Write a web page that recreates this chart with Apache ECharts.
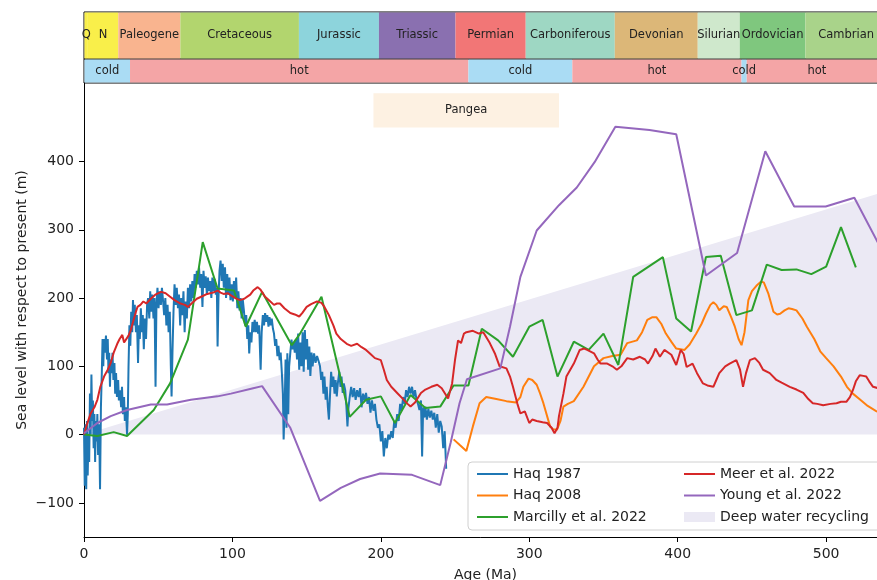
<!DOCTYPE html>
<html><head><meta charset="utf-8">
<script src="https://cdn.jsdelivr.net/npm/echarts@6/dist/echarts.min.js"></script>
<style>html,body{margin:0;padding:0;background:#fff}#c{width:877px;height:580px}</style>
</head><body><div id="c"></div>
<script>
// ---------- geological periods ----------
const periodNames = ['Q','N','Paleogene','Cretaceous','Jurassic','Triassic','Permian','Carboniferous','Devonian','Silurian','Ordovician','Cambrian'];
const periodStart = [0, 2.6, 23.1, 64.9, 144.8, 198.7, 250.3, 297.6, 357.6, 413.5, 441.8, 486];
const periodEnd   = [2.6, 23.1, 64.9, 144.8, 198.7, 250.3, 297.6, 357.6, 413.5, 441.8, 486, 541];
const periodColors = ['#f9ef4a','#f9ef4a','#f9b48f','#b2d56e','#8dd4dc','#8a70b0','#f27676','#9ed7c3','#dcb778','#cfe8cc','#7fc77e','#a9d38a'];
// ---------- climate ----------
const climateNames = ['cold','hot','cold','hot','cold','hot'];
const climateStart = [0, 31, 259, 329, 443, 446.5];
const climateEnd   = [31, 259, 329, 443, 446.5, 541];
const climateColors = ['#aadcf4','#f4a5a6','#aadcf4','#f4a5a6','#aadcf4','#f4a5a6'];
// ---------- Pangea & deep water ----------
const pangeaAge = [195, 320];
const pangeaLevel = [450, 500];
const deepWaterAge = [0, 541];
const deepWaterLevel = [0, 357];
// ---------- axis ticks ----------
const xTicks = [0, 100, 200, 300, 400, 500];
const yTicks = [-100, 0, 100, 200, 300, 400];
// ---------- series ----------
const haq1987 = [[0,10],[0.5,-75],[1,15],[1.5,-80],[2,20],[2.5,-60],[3,0],[3.5,-40],[4,60],[4.5,0],[5,88],[5.5,20],[6,50],[6.5,-20],[7,30],[7.5,-40],[8,20],[8.5,-10],[9,30],[9.5,-30],[10.2,15],[10.8,-80],[11.4,40],[12,90],[12.5,140],[13,100],[13.5,140],[14,120],[14.8,145],[15.5,110],[16,140],[16.5,90],[17,120],[17.5,70],[18,110],[18.6,90],[19.2,120],[19.8,80],[20.5,105],[21,60],[21.6,90],[22.2,55],[23,80],[23.5,50],[24.2,65],[25,40],[25.6,70],[26.2,30],[27,55],[27.5,20],[28.2,40],[29,0],[29.5,30],[30,100],[30.6,160],[31.2,130],[31.8,180],[32.5,150],[33,197],[33.6,160],[34.2,190],[35,150],[35.6,175],[36.4,105],[37,160],[37.6,140],[38.3,185],[39,150],[39.6,175],[40.3,125],[41,170],[41.8,140],[42.5,190],[43.2,200],[44,170],[44.6,210],[45.3,180],[46,205],[46.8,170],[47.5,200],[48.2,70],[48.8,190],[49.5,215],[50.2,185],[51,210],[51.8,190],[52.5,215],[53.3,195],[54,175],[54.8,200],[55.5,160],[56.3,190],[57,150],[57.8,180],[58.5,100],[59,56],[59.6,120],[60.3,180],[61,220],[61.8,190],[62.5,215],[63.3,185],[64,205],[64.8,160],[65.5,200],[66.3,175],[67,210],[67.8,150],[68.5,195],[69.3,170],[70,215],[70.8,185],[71.5,220],[72.3,195],[73,225],[73.8,200],[74.5,235],[75.3,215],[76,240],[76.8,220],[77.5,245],[78.3,215],[79,235],[79.8,187],[80.5,240],[81.3,215],[82,232],[82.8,205],[83.5,230],[84.3,210],[85,225],[85.8,200],[86.5,230],[87.3,210],[88,228],[88.8,205],[89.5,215],[90,129],[90.6,200],[91.3,240],[92,255],[92.8,225],[93.5,250],[94.2,215],[95,245],[95.7,200],[96.5,235],[97.2,205],[98,230],[98.7,197],[99.5,220],[100.3,195],[101,225],[101.8,200],[102.5,230],[103.3,185],[104,210],[104.8,182],[105.5,200],[106.2,170],[107,197],[107.8,180],[108.5,160],[109.3,175],[110,140],[110.7,160],[111.3,119],[112,150],[112.8,135],[113.5,165],[114.3,150],[115,168],[115.8,150],[116.5,165],[117.3,148],[118,160],[119,95],[119.7,150],[120.5,175],[121.3,160],[122,178],[122.8,165],[123.5,175],[124.3,158],[125,172],[125.8,160],[126.5,170],[127.3,155],[128,148],[128.8,130],[129.5,140],[130.3,115],[131,130],[131.8,109],[132.5,120],[133.3,90],[134,60],[134.5,-7],[135.2,40],[135.8,110],[136.4,10],[137,119],[137.6,30],[138.2,100],[139,120],[139.8,139],[140.5,125],[141.3,135],[142,120],[142.8,140],[143.5,110],[144.3,148],[145,95],[145.8,135],[146.5,100],[147.3,150],[148,92],[148.8,153],[149.5,110],[150.3,140],[151,95],[151.8,129],[152.5,86],[153.3,120],[154,100],[155,119],[156,105],[157,115],[158,108],[159,100],[159.8,80],[160.5,92],[161.3,60],[162,85],[162.8,51],[163.5,70],[164.3,40],[165,22],[165.8,60],[166.5,92],[167.3,70],[168,85],[168.8,60],[169.5,80],[170.3,56],[171,75],[172,92],[172.8,70],[173.5,85],[174.3,61],[175,75],[176,65],[176.8,40],[177.5,12],[178.2,40],[179,55],[180,70],[181,55],[182,68],[183,51],[184,65],[185,55],[186,68],[187,40],[188,60],[189,50],[190,61],[191,45],[192,55],[193,32],[194,50],[195,35],[196,45],[197,22],[198,10],[199,15],[200,-10],[201,5],[202,-32],[203,-5],[204,-20],[205,0],[206,-7],[207,5],[208,-5],[209,20],[210,10],[211,30],[212,20],[213,45],[214,35],[215,55],[216,45],[217,65],[218,55],[219,70],[220,60],[221,70],[222,55],[223,65],[224,51],[225,45],[226,36],[227,50],[227.8,-32],[228.5,40],[229.3,25],[230,41],[231,22],[232,38],[233,25],[234,35],[235,22],[236,32],[237,10],[238,30],[239,3],[240,20],[241,12],[242,-20],[243,5],[244,-50]];
const haq2008 = [[249,-7],[253,-15],[257.6,-24],[262,12],[266.5,46],[271,55],[277.8,52],[284.6,49],[291,47],[294,55],[296,70],[299.5,82],[302,80],[305,73],[307,62],[309.5,46],[314,12],[316,8],[318.6,7],[321,20],[323,41],[326,45],[330,49],[336.5,70],[343.6,100],[350,112],[356,115],[361.5,117],[366,134],[372.5,138],[376,150],[379.5,168],[383,172],[385.6,172],[389,162],[392,148],[396,135],[399,126],[404.6,124],[408,132],[412.5,148],[416,162],[419,177],[422,190],[424,194],[426,190],[428,182],[431,188],[433,187],[436,172],[438.5,158],[441,140],[443,131],[445,150],[447.6,197],[450,210],[453,218],[456,224],[458,223],[461,207],[464.5,180],[467,176],[469,177],[472,182],[474.6,185],[477,184],[480,182],[484,170],[487,158],[492,140],[496,122],[500,112],[505,100],[510,85],[514,70],[518,60],[523,51],[528,42],[534,34],[541,30]];
const marcilly2022 = [[0,0],[9,-2],[20,3.6],[29,-2],[47,36],[58,75],[70,139],[80,282],[90,214],[101,211],[109,158],[120,209],[140,131],[145,146],[160,202],[179,26],[190,51],[200,56],[209.5,17],[220,58],[230,39],[240,41],[249,72],[259,72],[268,155],[279,138],[289,114],[300,158],[309,168],[319,85],[330,136],[340,124],[350,148],[360,102],[370,231],[390,260],[399,170],[409,151],[419,260],[429,262],[439.5,175],[450,182],[460,249],[470,241],[480,242],[490,235],[500,246],[510,304],[520,245]];
const meer2022 = [[0,0],[2,15],[4.5,31],[7,40],[9,51],[11,70],[13.5,85],[16,95],[18,105],[20,120],[22.4,133],[24,140],[25.8,146],[27,135],[28,133],[30,145],[31.5,153],[33,165],[35,180],[36,187],[38,190],[40,195],[42,192],[45,199],[48,205],[52,209],[55,207],[58,202],[61,197],[65,192],[68,190],[70,187],[73,193],[76,199],[80,203],[83,206],[87,208],[90,211],[92,208],[94,206],[97,207],[99,204],[102,200],[105,197],[108,199],[110,202],[112,205],[114,211],[117,216],[119,212],[122,202],[125,196],[128,190],[130,192],[132,192],[135,185],[139,178],[142,176],[145,173],[147,178],[150,187],[153,191],[157,195],[160,193],[162,187],[165,175],[168,160],[170,148],[173,140],[177,133],[180,130],[184,133],[187,128],[190,124],[193,118],[196,112],[200,109],[202,95],[204,80],[207,70],[211,61],[215,52],[218,45],[220,41],[223,47],[227,61],[230,66],[234,70],[238,73],[241,68],[245.3,53],[248,75],[250,110],[252,138],[254,134],[256,148],[257.6,150],[262,152],[266,148],[269,150],[273.4,134],[277,118],[280,100],[284.6,97],[287,85],[289,70],[292,45],[294,31],[297,34],[300,17],[302,22],[305,20],[309,18],[312,17],[315,10],[317,2],[319,10],[320,27],[323,60],[325,85],[330,104],[334,124],[337,126],[339,124],[343.6,119],[346,110],[348,104],[352.5,104],[356,100],[359,95],[362,100],[366,112],[370,110],[374.5,114],[378,110],[380,104],[383,115],[385,126],[388,114],[391,124],[395.7,117],[399,102],[402,124],[404,118],[406,99],[410,104],[413,90],[417,75],[420,72],[424,70],[426,80],[428,90],[432,100],[435,104],[439.5,109],[442,95],[444,70],[446,90],[448.6,109],[452,112],[455,105],[457.5,95],[462,90],[466.5,80],[470,76],[475.5,70],[480,66],[484.6,61],[488,52],[491,46],[494,45],[498,43],[503,45],[507,46],[510,48],[513.6,48],[516,55],[518,65],[520,78],[522.6,87],[525,86],[527,85],[529,78],[531.6,70],[535,68],[541,62]];
const young2022 = [[0,2],[9,17],[18,27],[29,36],[45,44],[56,44],[72,51],[90,56],[99,60],[114,68],[120,71],[139,10],[159,-97],[173,-78],[186,-65],[199.5,-57],[221,-59],[240,-74],[247,-12],[253,46],[258,81],[280.5,97],[287,158],[294,231],[305,299],[320,336],[332,362],[344,399],[358,451],[381,446],[399,440],[419,233],[440,266],[459,415],[478.5,334],[499.7,334],[519,347],[541,256]];

const FONT = 'DejaVu Sans';
const TXT = '#222';
const LINE_ICON = 'path://M0,0 L31,0 L31,2 L0,2 Z';

function bandRender(names) {
  return function (params, api) {
    const s = api.value(0), e = api.value(1);
    const p0 = api.coord([s, 1]), p1 = api.coord([e, 0]);
    const cs = params.coordSys;
    const x0 = Math.max(p0[0], cs.x + 0.5);
    const x1 = Math.min(p1[0], cs.x + cs.width);
    return {
      type: 'rect',
      shape: { x: x0, y: cs.y + 0.5, width: x1 - x0, height: cs.height - 1 },
      style: { fill: api.visual('color') },
      textContent: { style: { text: names[params.dataIndex], fontSize: 11.5, fontFamily: FONT, fill: TXT } },
      textConfig: { position: 'inside' }
    };
  };
}

const periodData = periodNames.map((n, i) => ({ value: [periodStart[i], periodEnd[i]], name: n, itemStyle: { color: periodColors[i] } }));
const climateData = climateNames.map((n, i) => ({ value: [climateStart[i], climateEnd[i]], name: n, itemStyle: { color: climateColors[i] } }));

const fmt = v => String(v).replace('-', '\u2212');

const chart = echarts.init(document.getElementById('c'), null, { renderer: 'canvas' });
chart.setOption({
  animation: false,
  backgroundColor: '#fff',
  textStyle: { fontFamily: FONT },
  grid: [
    { left: 84, top: 83, width: 803, height: 454, show: false, outerBoundsMode: 'none', containLabel: false },
    { left: 84, top: 12, width: 803, height: 47, show: true, borderColor: '#000', borderWidth: 1, backgroundColor: 'transparent', outerBoundsMode: 'none', containLabel: false },
    { left: 84, top: 59, width: 803, height: 24, show: true, borderColor: '#000', borderWidth: 1, backgroundColor: 'transparent', outerBoundsMode: 'none', containLabel: false }
  ],
  xAxis: [
    { gridIndex: 0, type: 'value', min: 0, max: 541,
      name: 'Age (Ma)', nameLocation: 'middle', nameGap: 31,
      nameTextStyle: { fontSize: 14, color: TXT, fontFamily: FONT },
      axisLine: { show: true, onZero: false, lineStyle: { color: '#000', width: 1 } },
      axisTick: { show: true, length: 5, inside: false, lineStyle: { color: '#000' }, customValues: xTicks },
      axisLabel: { fontSize: 14, color: TXT, margin: 10, fontFamily: FONT, customValues: xTicks, formatter: fmt },
      splitLine: { show: false } },
    { gridIndex: 1, type: 'value', min: 0, max: 541, show: false },
    { gridIndex: 2, type: 'value', min: 0, max: 541, show: false }
  ],
  yAxis: [
    { gridIndex: 0, type: 'value', min: -150, max: 515,
      axisLine: { show: true, onZero: false, lineStyle: { color: '#000', width: 1 } },
      axisTick: { show: true, length: 5, inside: false, lineStyle: { color: '#000' }, customValues: yTicks },
      axisLabel: { fontSize: 14, color: TXT, margin: 10, fontFamily: FONT, customValues: yTicks, formatter: fmt },
      splitLine: { show: false } },
    { gridIndex: 1, type: 'value', min: 0, max: 1, show: false },
    { gridIndex: 2, type: 'value', min: 0, max: 1, show: false }
  ],
  legend: [
    { orient: 'vertical', left: 472, top: 462, itemWidth: 31, itemHeight: 10, itemGap: 7.5, selectedMode: false,
      itemStyle: { borderWidth: 0 },
      textStyle: { fontSize: 14, fontFamily: FONT, color: TXT, lineHeight: 14 },
      data: [{ name: 'Haq 1987', icon: LINE_ICON }, { name: 'Haq 2008', icon: LINE_ICON }, { name: 'Marcilly et al. 2022', icon: LINE_ICON }] },
    { orient: 'vertical', left: 679, top: 462, itemWidth: 31, itemHeight: 10, itemGap: 7.5, selectedMode: false,
      itemStyle: { borderWidth: 0 },
      textStyle: { fontSize: 14, fontFamily: FONT, color: TXT, lineHeight: 14 },
      data: [{ name: 'Meer et al. 2022', icon: LINE_ICON }, { name: 'Young et al. 2022', icon: LINE_ICON }, { name: 'Deep water recycling', icon: 'rect' }] }
  ],
  graphic: [
    { type: 'rect', shape: { x: 468, y: 462, width: 430, height: 68, r: 4 },
      style: { fill: 'rgba(255,255,255,0.8)', stroke: '#d0d0d0', lineWidth: 1 }, z: 3, silent: true },
    { type: 'text', x: 22, y: 300, rotation: Math.PI / 2,
      style: { text: 'Sea level with respect to present (m)', fontSize: 14, fontFamily: FONT, fill: TXT, align: 'center', verticalAlign: 'middle' } }
  ],
  series: [
    { type: 'custom', xAxisIndex: 1, yAxisIndex: 1, renderItem: bandRender(periodNames), data: periodData, silent: true, encode: { x: [0, 1] } },
    { type: 'custom', xAxisIndex: 2, yAxisIndex: 2, renderItem: bandRender(climateNames), data: climateData, silent: true, encode: { x: [0, 1] } },
    { name: 'Deep water recycling', type: 'line', xAxisIndex: 0, yAxisIndex: 0, symbol: 'none', z: 1,
      data: deepWaterAge.map((a, i) => [a, deepWaterLevel[i]]),
      itemStyle: { color: '#ebe9f4' }, lineStyle: { width: 0, color: '#ebe9f4' },
      areaStyle: { color: '#ebe9f4', opacity: 1 },
      markArea: { silent: true,
        label: { show: true, position: 'inside', fontSize: 11.5, fontFamily: FONT, color: TXT },
        itemStyle: { color: '#fdf1e2' },
        data: [[{ name: 'Pangea', xAxis: pangeaAge[0], yAxis: pangeaLevel[0] }, { xAxis: pangeaAge[1], yAxis: pangeaLevel[1] }]] } },
    { name: 'Haq 1987', type: 'line', symbol: 'none', data: haq1987, itemStyle: { color: '#1f77b4' }, lineStyle: { width: 2, color: '#1f77b4' } },
    { name: 'Haq 2008', type: 'line', symbol: 'none', data: haq2008, itemStyle: { color: '#ff7f0e' }, lineStyle: { width: 2, color: '#ff7f0e' } },
    { name: 'Marcilly et al. 2022', type: 'line', symbol: 'none', data: marcilly2022, itemStyle: { color: '#2ca02c' }, lineStyle: { width: 2, color: '#2ca02c' } },
    { name: 'Meer et al. 2022', type: 'line', symbol: 'none', data: meer2022, itemStyle: { color: '#d62728' }, lineStyle: { width: 2, color: '#d62728' } },
    { name: 'Young et al. 2022', type: 'line', symbol: 'none', data: young2022, itemStyle: { color: '#9467bd' }, lineStyle: { width: 2, color: '#9467bd' } }
  ]
});
</script></body></html>
